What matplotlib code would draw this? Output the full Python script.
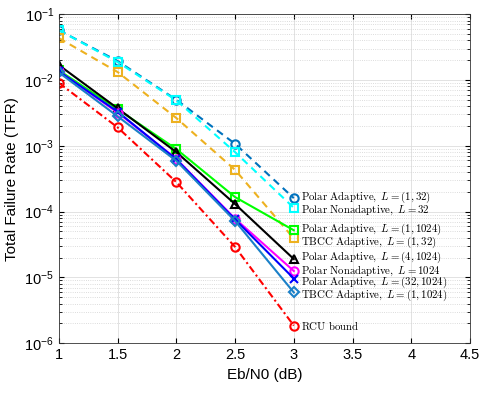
import matplotlib
matplotlib.use("Agg")
import matplotlib.pyplot as plt
from matplotlib.ticker import LogLocator, NullFormatter

plt.rcParams['font.family'] = ['Liberation Sans', 'DejaVu Sans']
plt.rcParams['mathtext.fontset'] = 'cm'

ebn0 = [1, 1.5, 2, 2.5, 3]

polar_ad_1_32 = [0.057, 0.0194, 0.0050, 1.07e-3, 1.6e-4]
polar_nonad_32 = [0.057, 0.0187, 0.0049, 8.0e-4, 1.14e-4]
tbcc_ad_1_32 = [0.0433, 0.0132, 0.00264, 4.3e-4, 3.9e-5]
polar_ad_1_1024 = [0.0140, 0.0036, 8.9e-4, 1.66e-4, 5.2e-5]
polar_ad_4_1024 = [0.0168, 0.0037, 8.0e-4, 1.3e-4, 1.9e-5]
polar_nonad_1024 = [0.0135, 0.0032, 6.3e-4, 7.8e-5, 1.25e-5]
polar_ad_32_1024 = [0.0135, 0.0033, 6.2e-4, 7.6e-5, 9.6e-6]
tbcc_ad_1_1024 = [0.0130, 0.0028, 5.9e-4, 7.2e-5, 5.9e-6]
rcu_bound = [0.0090, 0.0019, 2.8e-4, 2.9e-5, 1.85e-6]

labels = [
    r"$\mathrm{Polar\ Adaptive,}\ L=(1,32)$",
    r"$\mathrm{Polar\ Nonadaptive,}\ L=32$",
    r"$\mathrm{Polar\ Adaptive,}\ L=(1,1024)$",
    r"$\mathrm{TBCC\ Adaptive,}\ L=(1,32)$",
    r"$\mathrm{Polar\ Adaptive,}\ L=(4,1024)$",
    r"$\mathrm{Polar\ Nonadaptive,}\ L=1024$",
    r"$\mathrm{Polar\ Adaptive,}\ L=(32,1024)$",
    r"$\mathrm{TBCC\ Adaptive,}\ L=(1,1024)$",
    r"$\mathrm{RCU\ bound}$",
]

series = [
    (polar_ad_1_32, '#0072BD', 'o', (0, (3.5, 2.5))),
    (polar_nonad_32, '#00FFFF', 's', (0, (3.5, 2.5))),
    (polar_ad_1_1024, '#00FF00', 's', '-'),
    (tbcc_ad_1_32, '#EDB120', 's', (0, (3.5, 2.5))),
    (polar_ad_4_1024, 'black', '^', '-'),
    (polar_nonad_1024, '#FF00FF', 'o', '-'),
    (polar_ad_32_1024, '#0000FF', 'x', '-'),
    (tbcc_ad_1_1024, '#1A80C8', 'D', '-'),
    (rcu_bound, '#FF0000', 'o', (0, (3.5, 1.5, 1, 1.5))),
]

# label y positions (data units) next to the last markers
label_y = [1.65e-4, 1.05e-4, 5.4e-5, 3.4e-5, 2.0e-5, 1.25e-5, 8.3e-6, 5.4e-6, 1.85e-6]

fig = plt.figure(figsize=(4.83, 3.94), dpi=100)
ax = fig.add_axes([0.122, 0.129, 0.851, 0.835])

order = [0, 1, 3, 2, 4, 5, 6, 7, 8]
for i in order:
    y, c, m, ls = series[i]
    ms = 6 if m != 'D' else 5
    ax.semilogy(ebn0, y, color=c, marker=m, linestyle=ls, linewidth=1.5,
                markersize=ms, markerfacecolor='none', markeredgewidth=1.5)

for lab, yy in zip(labels, label_y):
    ax.text(3.06, yy, lab, fontsize=7.8, va='center', ha='left')

ax.set_xlim(1, 4.5)
ax.set_ylim(1e-6, 1e-1)
ax.set_xticks([1, 1.5, 2, 2.5, 3, 3.5, 4, 4.5])
ax.set_xticklabels(['1', '1.5', '2', '2.5', '3', '3.5', '4', '4.5'])
ax.yaxis.set_major_locator(LogLocator(base=10, numticks=10))
ax.yaxis.set_minor_locator(LogLocator(base=10, subs=range(2, 10), numticks=20))
ax.yaxis.set_minor_formatter(NullFormatter())

ax.grid(True, which='major', color='#DDDDDD', linewidth=0.6, linestyle='-')
ax.grid(True, which='minor', axis='y', color='#D0D0D0', linewidth=0.6, linestyle=':')
ax.set_axisbelow(True)
ax.tick_params(which='both', direction='in', top=True, right=True, labelsize=10.5)
for s in ax.spines.values():
    s.set_color('#333333')
    s.set_linewidth(0.6)

ax.set_xlabel('Eb/N0 (dB)', fontsize=11)
ax.set_ylabel('Total Failure Rate (TFR)', fontsize=11)

fig.savefig('out.png', dpi=100)
